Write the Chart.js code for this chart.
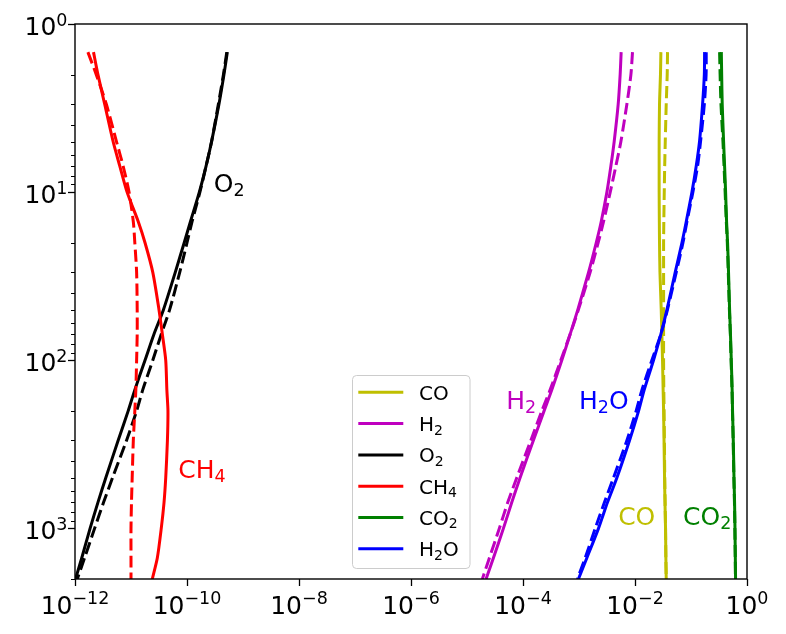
<!DOCTYPE html>
<html>
<head>
<meta charset="utf-8">
<title>Mixing ratio profiles</title>
<script src="https://cdn.jsdelivr.net/npm/chart.js@4.4.1/dist/chart.umd.min.js"></script>
<style>
    html, body { margin: 0; padding: 0; background: #ffffff; }
    #profileChart { display: block; }
</style>
</head>
<body>
<canvas id="profileChart" width="786" height="634"></canvas>
<script>
// pressure levels (y axis, reversed log scale)
var pressure = [1.47, 2, 3, 5, 7, 10, 15, 20, 30, 50, 70, 100, 150, 200, 300, 500, 700, 1000, 1500, 2000];

// mixing ratios at each pressure level: solid = model, dashed = comparison
var coSolid = [0.0290, 0.0285, 0.0274, 0.0270, 0.0270, 0.0270, 0.0272, 0.0274, 0.0279, 0.0294, 0.0302, 0.0310, 0.0318, 0.0324, 0.0330, 0.0337, 0.0343, 0.0351, 0.0356, 0.0361];
var coDashed = [0.0381, 0.0376, 0.0361, 0.0347, 0.0339, 0.0333, 0.0327, 0.0324, 0.0324, 0.0324, 0.0324, 0.0324, 0.0327, 0.0331, 0.0335, 0.0340, 0.0345, 0.0351, 0.0356, 0.0361];
var h2Solid = [5.66e-3, 5.43e-3, 5.01e-3, 4.25e-3, 3.71e-3, 3.15e-3, 2.49e-3, 2.03e-3, 1.48e-3, 9.53e-4, 6.95e-4, 4.93e-4, 3.27e-4, 2.38e-4, 1.53e-4, 8.87e-5, 6.31e-5, 4.47e-5, 2.96e-5, 2.19e-5];
var h2Dashed = [9.02e-3, 8.45e-3, 7.16e-3, 5.60e-3, 4.55e-3, 3.61e-3, 2.74e-3, 2.20e-3, 1.58e-3, 9.77e-4, 6.95e-4, 4.73e-4, 3.05e-4, 2.17e-4, 1.38e-4, 7.74e-5, 5.35e-5, 3.78e-5, 2.51e-5, 1.88e-5];
var o2Solid = [5.25e-10, 4.57e-10, 3.72e-10, 2.75e-10, 2.19e-10, 1.66e-10, 1.15e-10, 8.91e-11, 6.17e-11, 3.80e-11, 2.57e-11, 1.78e-11, 1.17e-11, 8.91e-12, 5.89e-12, 3.55e-12, 2.57e-12, 1.86e-12, 1.32e-12, 1.02e-12];
var o2Dashed = [5.13e-10, 4.47e-10, 3.63e-10, 2.75e-10, 2.19e-10, 1.70e-10, 1.23e-10, 1.00e-10, 7.41e-11, 4.90e-11, 3.47e-11, 2.45e-11, 1.62e-11, 1.26e-11, 8.32e-12, 4.68e-12, 3.24e-12, 2.24e-12, 1.48e-12, 1.10e-12];
var ch4Solid = [2.14e-12, 2.57e-12, 3.39e-12, 4.79e-12, 6.31e-12, 8.51e-12, 1.35e-11, 1.78e-11, 2.45e-11, 3.16e-11, 3.63e-11, 4.17e-11, 4.37e-11, 4.57e-11, 4.47e-11, 4.17e-11, 3.89e-11, 3.47e-11, 2.95e-11, 2.40e-11];
var ch4Dashed = [1.70e-12, 2.40e-12, 3.63e-12, 5.50e-12, 7.24e-12, 9.23e-12, 1.10e-11, 1.17e-11, 1.26e-11, 1.29e-11, 1.29e-11, 1.26e-11, 1.22e-11, 1.17e-11, 1.10e-11, 1.05e-11, 1.02e-11, 1.00e-11, 1.00e-11, 1.00e-11];
var co2Solid = [0.348, 0.353, 0.361, 0.382, 0.398, 0.415, 0.432, 0.450, 0.468, 0.489, 0.507, 0.524, 0.543, 0.552, 0.569, 0.586, 0.600, 0.610, 0.619, 0.625];
var co2Dashed = [0.324, 0.331, 0.343, 0.372, 0.389, 0.407, 0.427, 0.445, 0.463, 0.485, 0.504, 0.520, 0.540, 0.550, 0.566, 0.583, 0.597, 0.607, 0.617, 0.622];
var h2oSolid = [0.175, 0.173, 0.161, 0.142, 0.124, 0.104, 0.0822, 0.0689, 0.0522, 0.0372, 0.0290, 0.0214, 0.0146, 0.0116, 7.98e-3, 4.75e-3, 3.23e-3, 2.23e-3, 1.38e-3, 9.77e-4];
var h2oDashed = [0.187, 0.186, 0.173, 0.148, 0.131, 0.108, 0.0845, 0.0718, 0.0545, 0.0380, 0.0290, 0.0200, 0.0133, 0.0105, 7.16e-3, 4.13e-3, 2.85e-3, 1.95e-3, 1.29e-3, 9.33e-4];

var species = ["CO", "H2", "O2", "CH4", "CO2", "H2O"];
var xTicks = [1e-12, 1e-10, 1e-8, 1e-6, 1e-4, 1e-2, 1];
var yTicks = [1, 10, 100, 1000];

var FONT = "'DejaVu Sans', sans-serif";
var colors = { CO: "#bfbf00", H2: "#bf00bf", O2: "#000000", CH4: "#ff0000", CO2: "#008000", H2O: "#0000ff" };
var profiles = {
    CO: [coSolid, coDashed], H2: [h2Solid, h2Dashed], O2: [o2Solid, o2Dashed],
    CH4: [ch4Solid, ch4Dashed], CO2: [co2Solid, co2Dashed], H2O: [h2oSolid, h2oDashed]
};

// in-plot labels, placed in data coordinates (left/baseline anchored)
var notes = [
    { text: "O2", x: 3e-10, p: 10 },
    { text: "CH4", x: 7e-11, p: 500 },
    { text: "H2", x: 5e-5, p: 195 },
    { text: "H2O", x: 1e-3, p: 195 },
    { text: "CO", x: 5e-3, p: 950 },
    { text: "CO2", x: 0.072, p: 950 }
];

function toPoints(vals) {
    return vals.map(function (v, i) { return { x: v, y: pressure[i] }; });
}

var datasets = [];
species.forEach(function (name) {
    datasets.push({
        label: name, data: toPoints(profiles[name][0]),
        borderColor: colors[name], borderWidth: 3, pointRadius: 0,
        showLine: true, fill: false, tension: 0.25
    });
    datasets.push({
        label: name + " dashed", data: toPoints(profiles[name][1]),
        borderColor: colors[name], borderWidth: 3, borderDash: [12, 5], pointRadius: 0,
        showLine: true, fill: false, tension: 0.25
    });
});
// later lines sit on top, like the original
datasets.forEach(function (d, i) { d.order = datasets.length - i; });

// draws "H2O"-style text with digits as subscripts, returns width
function drawChem(ctx, text, x, y, size) {
    var parts = text.match(/[A-Za-z]+|\d+/g);
    var x0 = x;
    parts.forEach(function (part) {
        var sub = /\d/.test(part);
        ctx.font = (sub ? size * 0.7 : size) + "px " + FONT;
        ctx.fillText(part, x, sub ? y + size * 0.17 : y);
        x += ctx.measureText(part).width;
    });
    return x - x0;
}

// draws 10^exp tick label
function drawPow(ctx, exp, x, y, align) {
    var sup = exp < 0 ? "\u2212" + (-exp) : String(exp);
    ctx.font = "25px " + FONT;
    var wb = ctx.measureText("10").width;
    ctx.font = "17.5px " + FONT;
    var ws = ctx.measureText(sup).width;
    var x0 = align === "center" ? x - (wb + ws) / 2 : x - (wb + ws);
    ctx.font = "25px " + FONT;
    ctx.fillText("10", x0, y);
    ctx.font = "17.5px " + FONT;
    ctx.fillText(sup, x0 + wb, y - 9.5);
}

var decorPlugin = {
    id: "decor",
    afterDraw: function (chart) {
        var ctx = chart.ctx;
        var area = chart.chartArea;
        var xs = chart.scales.x;
        var ys = chart.scales.y;
        ctx.save();
        ctx.textAlign = "left";
        ctx.textBaseline = "alphabetic";

        // frame
        ctx.strokeStyle = "#000000";
        ctx.lineWidth = 1.4;
        ctx.strokeRect(area.left, area.top, area.right - area.left, area.bottom - area.top);

        // minor ticks on the pressure axis
        ctx.lineWidth = 1;
        for (var d = 0; d < 4; d++) {
            for (var m = 2; m <= 9; m++) {
                var v = m * Math.pow(10, d);
                if (v > ys.max) continue;
                var py = Math.round(ys.getPixelForValue(v)) + 0.5;
                ctx.beginPath();
                ctx.moveTo(area.left, py);
                ctx.lineTo(area.left - 4, py);
                ctx.stroke();
            }
        }

        // tick labels
        ctx.fillStyle = "#000000";
        xTicks.forEach(function (v) {
            drawPow(ctx, Math.round(Math.log10(v)), xs.getPixelForValue(v), area.bottom + 34.5, "center");
        });
        yTicks.forEach(function (v) {
            drawPow(ctx, Math.round(Math.log10(v)), area.left - 7.5, ys.getPixelForValue(v) + 11, "right");
        });

        // in-plot labels
        notes.forEach(function (n) {
            ctx.fillStyle = colors[n.text];
            drawChem(ctx, n.text, xs.getPixelForValue(n.x), ys.getPixelForValue(n.p), 25);
        });

        // legend
        var lx = 352.5, ly = 375.5, lw = 117.5, lh = 193;
        ctx.beginPath();
        ctx.roundRect(lx, ly, lw, lh, 4);
        ctx.fillStyle = "rgba(255,255,255,0.8)";
        ctx.fill();
        ctx.strokeStyle = "#cccccc";
        ctx.lineWidth = 1;
        ctx.stroke();
        species.forEach(function (name, i) {
            var ry = 392.3 + i * 31.3;
            ctx.strokeStyle = colors[name];
            ctx.lineWidth = 3;
            ctx.beginPath();
            ctx.moveTo(358.3, ry);
            ctx.lineTo(403.3, ry);
            ctx.stroke();
            ctx.fillStyle = "#000000";
            drawChem(ctx, name, 419, ry + 7.5, 20);
        });
        ctx.restore();
    }
};

var ctx = document.getElementById("profileChart").getContext("2d");
new Chart(ctx, {
    type: "scatter",
    data: { datasets: datasets },
    options: {
        responsive: false,
        animation: false,
        events: [],
        layout: { padding: { top: 24, right: 39, left: 0, bottom: 0 } },
        plugins: { legend: { display: false }, tooltip: { enabled: false } },
        scales: {
            x: {
                type: "logarithmic",
                min: 1e-12,
                max: 1,
                bounds: "data",
                border: { display: false },
                grid: { drawOnChartArea: false, drawTicks: true, tickLength: 7, tickWidth: 1.3, tickColor: "#000000" },
                ticks: { display: false },
                afterBuildTicks: function (scale) {
                    scale.ticks = xTicks.map(function (v) { return { value: v }; });
                },
                afterFit: function (scale) { scale.height = 55; }
            },
            y: {
                type: "logarithmic",
                reverse: true,
                min: 1,
                max: 2000,
                bounds: "data",
                border: { display: false },
                grid: { drawOnChartArea: false, drawTicks: true, tickLength: 7, tickWidth: 1.3, tickColor: "#000000" },
                ticks: { display: false },
                afterBuildTicks: function (scale) {
                    scale.ticks = yTicks.map(function (v) { return { value: v }; });
                },
                afterFit: function (scale) { scale.width = 75; }
            }
        }
    },
    plugins: [decorPlugin]
});
</script>
</body>
</html>
